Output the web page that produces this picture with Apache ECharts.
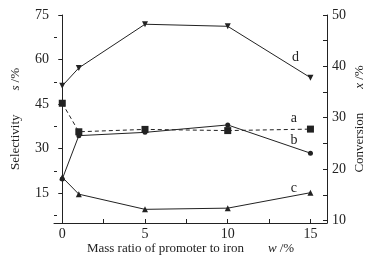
<!DOCTYPE html>
<html style="height: 100%">
<head>
    <meta charset="UTF-8">
    <title>Selectivity and conversion</title>
</head>
<body style="height: 100%; margin: 0; background: #fff">
<div id="container" style="width: 375px; height: 257px"></div>
<script src="https://cdn.jsdelivr.net/npm/echarts@6/dist/echarts.min.js"></script>
<script>
    // promoter / iron mass ratio, w %
    var ratios = [0, 1, 5, 10, 15];
    // selectivity s % (left axis)
    var curveA = [45.3, 35.7, 36.5, 36.1, 36.6];
    var curveB = [19.8, 34.4, 35.5, 38.0, 28.5];
    var curveC = [20.4, 14.7, 9.6, 10.0, 15.2];
    // conversion x % (right axis)
    var curveD = [36.2, 39.7, 48.2, 47.8, 37.8];

    var xLabels = [0, 5, 10, 15];
    var xTicks = [0, 2.5, 5, 7.5, 10, 12.5, 15];
    var leftLabels = [15, 30, 45, 60, 75];
    var leftMinor = [7.5, 22.5, 37.5, 52.5, 67.5];
    var rightLabels = [10, 20, 30, 40, 50];
    var rightTicks = [10, 15, 20, 25, 30, 35, 40, 45, 50];

    function pairs(ys) {
        return ratios.map(function (x, i) { return [x, ys[i]]; });
    }

    var ink = '#222';
    var font = '"Liberation Serif", "DejaVu Serif", serif';

    function tag(text, coord) {
        return {
            symbol: 'circle', symbolSize: 0,
            label: {show: true, position: 'inside', color: ink, fontFamily: font, fontSize: 14, formatter: text},
            data: [{coord: coord}]
        };
    }

    function nameStyle() {
        return {
            rich: {
                n: {fontFamily: font, fontSize: 13, color: ink},
                i: {fontFamily: font, fontSize: 13, color: ink, fontStyle: 'italic'}
            }
        };
    }

    var dom = document.getElementById('container');
    var myChart = echarts.init(dom);
    var option = {
        animation: false,
        backgroundColor: '#fff',
        textStyle: {fontFamily: font},
        grid: {left: 54, right: 48, top: 15, bottom: 34, outerBoundsMode: 'none', containLabel: false},
        xAxis: {
            type: 'value', min: -0.5, max: 16,
            name: '{n|Mass ratio of promoter to iron}        {i|w} {n|/%}',
            nameLocation: 'middle', nameGap: 19, nameMoveOverlap: false,
            nameTextStyle: nameStyle(),
            splitLine: {show: false},
            axisLine: {lineStyle: {color: ink, width: 1}},
            axisTick: {inside: true, length: 4, customValues: xTicks, lineStyle: {color: ink}},
            axisLabel: {customValues: xLabels, margin: 4, color: ink, fontFamily: font, fontSize: 14}
        },
        yAxis: [
            {
                type: 'value', min: 5, max: 75, position: 'left',
                name: '{n|Selectivity}        {i|s} {n|/%}',
                nameLocation: 'middle', nameGap: 32, nameRotate: 90, nameMoveOverlap: false,
                nameTextStyle: nameStyle(),
                splitLine: {show: false},
                axisLine: {show: true, lineStyle: {color: ink, width: 1}},
                axisTick: {inside: false, length: 4, customValues: leftLabels, lineStyle: {color: ink}},
                axisLabel: {customValues: leftLabels, margin: 5, color: ink, fontFamily: font, fontSize: 14}
            },
            {
                type: 'value', min: 9.5, max: 50, position: 'right',
                name: '{n|Conversion}        {i|x} {n|/%}',
                nameLocation: 'middle', nameGap: 26, nameRotate: 90, nameMoveOverlap: false,
                nameTextStyle: nameStyle(),
                splitLine: {show: false},
                axisLine: {show: true, lineStyle: {color: ink, width: 1}},
                axisTick: {inside: true, length: 4, customValues: rightTicks, lineStyle: {color: ink}},
                axisLabel: {customValues: rightLabels, margin: 5, color: ink, fontFamily: font, fontSize: 14}
            },
            {
                // minor ticks of the left axis, drawn inward
                type: 'value', min: 5, max: 75, position: 'left',
                splitLine: {show: false},
                axisLine: {show: false},
                axisTick: {show: true, inside: true, length: 3, customValues: leftMinor, lineStyle: {color: ink}},
                axisLabel: {show: false}
            }
        ],
        series: [
            {
                name: 'a', type: 'line', yAxisIndex: 0, data: pairs(curveA),
                symbol: 'rect', symbolSize: 7,
                itemStyle: {color: ink},
                lineStyle: {color: ink, width: 1, type: [4, 3]},
                markPoint: tag('a', [14.0, 40.3])
            },
            {
                name: 'b', type: 'line', yAxisIndex: 0, data: pairs(curveB),
                symbol: 'circle', symbolSize: 5,
                itemStyle: {color: ink},
                lineStyle: {color: ink, width: 1},
                markPoint: tag('b', [14.0, 32.9])
            },
            {
                name: 'c', type: 'line', yAxisIndex: 0, data: pairs(curveC),
                symbol: 'triangle', symbolSize: 6,
                itemStyle: {color: ink},
                lineStyle: {color: ink, width: 1},
                markPoint: tag('c', [14.0, 16.8])
            },
            {
                name: 'd', type: 'line', yAxisIndex: 1, data: pairs(curveD),
                symbol: 'triangle', symbolRotate: 180, symbolSize: 6,
                itemStyle: {color: ink},
                lineStyle: {color: ink, width: 1},
                markPoint: tag('d', [14.1, 41.8])
            }
        ]
    };
    myChart.setOption(option);
</script>
</body>
</html>
